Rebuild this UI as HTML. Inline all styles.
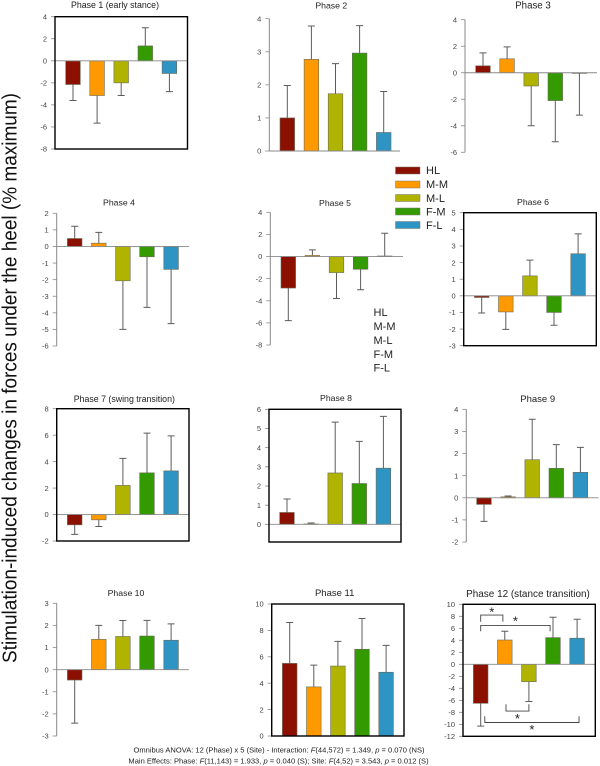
<!DOCTYPE html>
<html lang="en">
<head>
<meta charset="utf-8">
<title>Stimulation-induced changes in forces under the heel</title>
<style>
html,body{margin:0;padding:0;background:#fff;width:600px;height:766px;overflow:hidden}
svg{display:block}
text{font-family:"Liberation Sans",sans-serif}
.tick{font-size:7.5px;fill:#444;text-anchor:end}
.title{fill:#222;text-anchor:middle}
.leg{font-size:11px;fill:#222}
.foot{font-size:7.55px;fill:#222;text-anchor:middle}
</style>
</head>
<body>
<svg id="figure" xmlns="http://www.w3.org/2000/svg" width="600" height="766" viewBox="0 0 600 766">
  <rect x="0" y="0" width="600" height="766" fill="#fff"/>
  <text transform="translate(16.5,378) rotate(-90)" text-anchor="middle" font-size="20.5" fill="#111" textLength="570" lengthAdjust="spacingAndGlyphs">Stimulation-induced changes in forces under the heel (% maximum)</text>

  <g>
    <g><rect x="395.5" y="167" width="24.5" height="7" fill="#8b1000" stroke="#777" stroke-width=".5"/><text class="leg" x="426" y="174">HL</text></g>
    <g><rect x="395.5" y="181" width="24.5" height="7" fill="#ff9900" stroke="#777" stroke-width=".5"/><text class="leg" x="426" y="188">M-M</text></g>
    <g><rect x="395.5" y="194.5" width="24.5" height="7" fill="#b0b400" stroke="#777" stroke-width=".5"/><text class="leg" x="426" y="202">M-L</text></g>
    <g><rect x="395.5" y="208" width="24.5" height="7" fill="#339a00" stroke="#777" stroke-width=".5"/><text class="leg" x="426" y="215.5">F-M</text></g>
    <g><rect x="395.5" y="221.5" width="24.5" height="7" fill="#2e94c4" stroke="#777" stroke-width=".5"/><text class="leg" x="426" y="229">F-L</text></g>
  </g>

  <g>
    <text class="leg" x="373.5" y="316">HL</text>
    <text class="leg" x="373.5" y="330">M-M</text>
    <text class="leg" x="373.5" y="344">M-L</text>
    <text class="leg" x="373.5" y="358">F-M</text>
    <text class="leg" x="373.5" y="371.5">F-L</text>
  </g>

  <text class="foot" x="279" y="752.5">Omnibus ANOVA: 12 (Phase) x 5 (Site) - Interaction: <tspan font-style="italic">F</tspan>(44,572) = 1.349, <tspan font-style="italic">p</tspan> = 0.070 (NS)</text>
  <text class="foot" x="278.5" y="763.3">Main Effects:  Phase: <tspan font-style="italic">F</tspan>(11,143) = 1.933, <tspan font-style="italic">p</tspan> = 0.040 (S); Site: <tspan font-style="italic">F</tspan>(4,52) = 3.543, <tspan font-style="italic">p</tspan> = 0.012 (S)</text>
</svg>

<script>
// ---- chart data ----
const siteNames = ['HL', 'M-M', 'M-L', 'F-M', 'F-L'];
const siteColors = ['#8b1000', '#ff9900', '#b0b400', '#339a00', '#2e94c4'];

const phase1Means = [-2.15, -3.15, -2.0, 1.35, -1.15];
const phase1ErrorEnds = [-3.6, -5.65, -3.15, 3.0, -2.8];
const phase1Ticks = [4, 2, 0, -2, -4, -6, -8];

const phase2Means = [1.0, 2.77, 1.73, 2.96, 0.56];
const phase2ErrorEnds = [1.98, 3.78, 2.64, 3.79, 1.8];
const phase2Ticks = [4, 3, 2, 1, 0];

const phase3Means = [0.52, 1.05, -1.0, -2.1, -0.05];
const phase3ErrorEnds = [1.5, 1.95, -4.0, -5.2, -3.2];
const phase3Ticks = [4, 2, 0, -2, -4, -6];

const phase4Means = [0.48, 0.2, -2.07, -0.62, -1.38];
const phase4ErrorEnds = [1.22, 0.85, -5.0, -3.67, -4.65];
const phase4Ticks = [2, 1, 0, -1, -2, -3, -4, -5, -6];

const phase5Means = [-2.85, 0.1, -1.45, -1.15, 0.05];
const phase5ErrorEnds = [-5.8, 0.6, -3.8, -3.0, 2.1];
const phase5Ticks = [4, 2, 0, -2, -4, -6, -8];

const phase6Means = [-0.1, -0.97, 1.2, -1.0, 2.53];
const phase6ErrorEnds = [-1.03, -2.02, 2.15, -1.77, 3.73];
const phase6Ticks = [5, 4, 3, 2, 1, 0, -1, -2, -3];

const phase7Means = [-0.78, -0.4, 2.2, 3.15, 3.3];
const phase7ErrorEnds = [-1.5, -0.9, 4.25, 6.15, 5.95];
const phase7Ticks = [8, 6, 4, 2, 0, -2];

const phase8Means = [0.62, 0.02, 2.68, 2.13, 2.93];
const phase8ErrorEnds = [1.32, 0.07, 5.33, 4.33, 5.63];
const phase8Ticks = [6, 5, 4, 3, 2, 1, 0];

const phase9Means = [-0.3, 0.04, 1.72, 1.33, 1.15];
const phase9ErrorEnds = [-1.07, 0.08, 3.55, 2.4, 2.28];
const phase9Ticks = [4, 3, 2, 1, 0, -1, -2];

const phase10Means = [-0.47, 1.37, 1.5, 1.52, 1.33];
const phase10ErrorEnds = [-2.42, 2.0, 2.22, 2.23, 2.07];
const phase10Ticks = [3, 2, 1, 0, -1, -2, -3];

const phase11Means = [5.5, 3.72, 5.3, 6.57, 4.83];
const phase11ErrorEnds = [8.6, 5.37, 7.17, 8.9, 6.87];
const phase11Ticks = [10, 8, 6, 4, 2, 0];

const phase12Means = [-6.5, 4.05, -2.9, 4.45, 4.35];
const phase12ErrorEnds = [-10.3, 5.5, -6.2, 7.85, 7.5];
const phase12Ticks = [10, 8, 6, 4, 2, 0, -2, -4, -6, -8, -10, -12];

// Significance brackets of phase 12: site index range, level of the bar, level of the ends
const sigFromSite = [0, 0, 1.05, 0.17];
const sigToSite = [0.92, 2.88, 2.0, 4.08];
const sigBarLevel = [8.2, 6.47, -7.8, -9.7];
const sigEndLevel = [7.1, 5.5, -6.65, -8.65];
const sigStarLevel = [9.05, 7.55, -8.73, -10.5];

// ---- layout (pixels) ----
const panels = [
  {id:1, title:'Phase 1 (early stance)', means:phase1Means, ends:phase1ErrorEnds, ticks:phase1Ticks, l:55, r:187.5, t:16.7, b:149, cx:73, tx:115, ty:8, ts:8.8, box:true},
  {id:2, title:'Phase 2', means:phase2Means, ends:phase2ErrorEnds, ticks:phase2Ticks, l:269.3, r:400, t:18.7, b:151, cx:287.3, tx:331.3, ty:8.5, ts:8.7, box:false},
  {id:3, title:'Phase 3', means:phase3Means, ends:phase3ErrorEnds, ticks:phase3Ticks, l:465, r:597, t:19.7, b:152.3, cx:483, tx:533, ty:8.3, ts:9.7, box:false},
  {id:4, title:'Phase 4', means:phase4Means, ends:phase4ErrorEnds, ticks:phase4Ticks, l:56.7, r:189, t:213.3, b:346, cx:74.7, tx:119, ty:205.7, ts:8.7, box:false},
  {id:5, title:'Phase 5', means:phase5Means, ends:phase5ErrorEnds, ticks:phase5Ticks, l:270.3, r:403, t:212.3, b:345, cx:288.3, tx:335, ty:206.2, ts:8.7, box:false},
  {id:6, title:'Phase 6', means:phase6Means, ends:phase6ErrorEnds, ticks:phase6Ticks, l:463.7, r:596.3, t:212.7, b:345.7, cx:481.7, tx:533, ty:205.2, ts:8.7, box:true},
  {id:7, title:'Phase 7 (swing transition)', means:phase7Means, ends:phase7ErrorEnds, ticks:phase7Ticks, l:56.7, r:189, t:408.7, b:541, cx:74.7, tx:124.3, ty:402.2, ts:8.8, box:true},
  {id:8, title:'Phase 8', means:phase8Means, ends:phase8ErrorEnds, ticks:phase8Ticks, l:269, r:401, t:409.3, b:542, cx:287, tx:336, ty:401, ts:8.7, box:true, floor:-0.92},
  {id:9, title:'Phase 9', means:phase9Means, ends:phase9ErrorEnds, ticks:phase9Ticks, l:466.3, r:598.7, t:409.3, b:542, cx:484, tx:537.7, ty:402, ts:9.5, box:false},
  {id:10, title:'Phase 10', means:phase10Means, ends:phase10ErrorEnds, ticks:phase10Ticks, l:56.7, r:189, t:603.3, b:736, cx:74.7, tx:126, ty:596, ts:8.7, box:false},
  {id:11, title:'Phase 11', means:phase11Means, ends:phase11ErrorEnds, ticks:phase11Ticks, l:271.7, r:404, t:604, b:736, cx:289.7, tx:334.7, ty:596.2, ts:9.5, box:true},
  {id:12, title:'Phase 12 (stance transition)', means:phase12Means, ends:phase12ErrorEnds, ticks:phase12Ticks, l:463, r:595.3, t:604.3, b:736.3, cx:480.7, tx:528, ty:597.2, ts:9.95, box:true}
];

const SVGNS = 'http://www.w3.org/2000/svg';
const svg = document.getElementById('figure');
const BAR_STEP = 24.1;
const BAR_WIDTH = 14.6;
const CAP = 3.5;

function make(tag, parent, props) {
  const el = document.createElementNS(SVGNS, tag);
  for (const k in props) el.setAttribute(k, props[k]);
  parent.appendChild(el);
  return el;
}
function axisY(p) {
  const max = p.ticks[0];
  const min = p.floor !== undefined ? p.floor : p.ticks[p.ticks.length - 1];
  return v => p.t + (max - v) / (max - min) * (p.b - p.t);
}
function axisX(p) {
  return i => p.cx + i * BAR_STEP;
}

panels.forEach(p => {
  const y = axisY(p);
  const x = axisX(p);
  const g = make('g', svg, {});
  
  

  const title = make('text', g, {class:'title', x:p.tx, y:p.ty, 'font-size':p.ts});
  title.textContent = p.title;
  
  

  // y axis
  const axis = make('line', g, {x1:p.l, x2:p.l, y1:p.t, y2:p.b, stroke:'#888', 'stroke-width':1});
  
  

  p.ticks.forEach(v => {
    const mark = make('line', g, {x1:p.l - 4, x2:p.l, y1:y(v), y2:y(v), stroke:'#888', 'stroke-width':0.8});
    
    
    const label = make('text', g, {class:'tick', x:p.l - 8, y:y(v) + 2.7});
    label.textContent = v;
    
    
  });

  // error bars, under the bars
  p.means.forEach((m, i) => {
    const e = p.ends[i];
    const err = make('path', g, {
      d:'M' + x(i) + ' ' + y(m) + 'V' + y(e) + 'M' + (x(i) - CAP) + ' ' + y(e) + 'H' + (x(i) + CAP),
      fill:'none', stroke:'#5c5c5c', 'stroke-width':1
    });
    
    
  });

  // bars
  p.means.forEach((m, i) => {
    const top = Math.min(y(m), y(0));
    const h = Math.abs(y(m) - y(0));
    const bar = make('rect', g, {x:x(i) - BAR_WIDTH / 2, y:top, width:BAR_WIDTH, height:h, fill:siteColors[i], stroke:'#6a6a5a', 'stroke-width':0.6});
    
    
  });

  // zero line
  const zero = make('line', g, {x1:p.l, x2:p.r, y1:y(0), y2:y(0), stroke:'#888', 'stroke-width':0.9});
  
  

  if (p.box) {
    const frame = make('rect', g, {x:p.l, y:p.t, width:p.r - p.l, height:p.b - p.t, fill:'none', stroke:'#000', 'stroke-width':1.4});
    
    
  }

  // significance brackets
  if (p.id === 12) {
    sigBarLevel.forEach((lvl, k) => {
      const x1 = x(sigFromSite[k]);
      const x2 = x(sigToSite[k]);
      const br = make('path', g, {
        d:'M' + x1 + ' ' + y(sigEndLevel[k]) + 'V' + y(lvl) + 'H' + x2 + 'V' + y(sigEndLevel[k]),
        fill:'none', stroke:'#444', 'stroke-width':0.9
      });
      
      
      const star = make('text', g, {x:(x1 + x2) / 2, y:y(sigStarLevel[k]) + 6.5, 'text-anchor':'middle', 'font-size':13, fill:'#222'});
      star.textContent = '*';
      
      
    });
  }
});
</script>
</body>
</html>
